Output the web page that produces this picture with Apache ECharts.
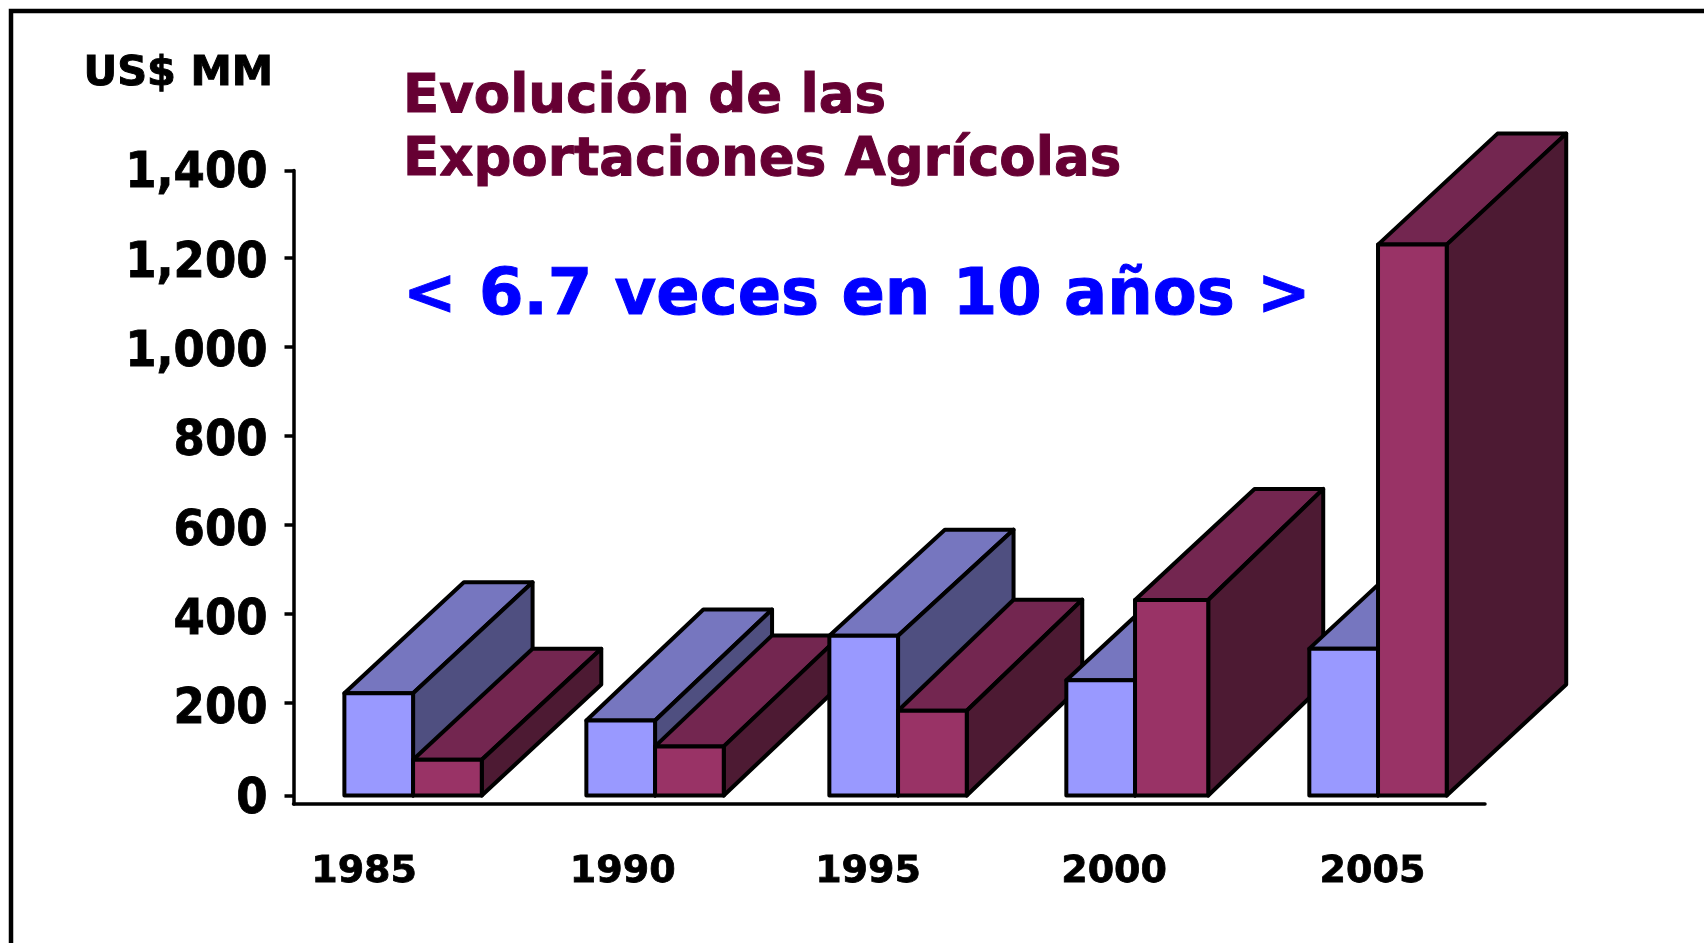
<!DOCTYPE html>
<html>
<head>
<meta charset="utf-8">
<title>Evolución de las Exportaciones Agrícolas</title>
<style>
  html, body { margin: 0; padding: 0; background: #fff; }
  #chart { width: 1704px; height: 943px; }
</style>
<script src="https://cdn.jsdelivr.net/npm/echarts@6/dist/echarts.min.js"></script>
</head>
<body>
<div id="chart"></div>
<script>
// data
const years = ['1985', '1990', '1995', '2000', '2005'];
const serieAzul = [229, 168, 358, 258, 329];
const serieRoja = [80, 110, 190, 438, 1234];
const yTicks = [0, 200, 400, 600, 800, 1000, 1200, 1400];
// the tick marks in the source sit a little off the labels
const yTickMarks = [0, 207, 407, 606, 806, 1005, 1205, 1400];

// layout only: the year labels and boxes are hand placed in the source, not on a regular step
const yearSlots = [-0.203, 0.869, 1.886, 2.906, 3.977];
const groupNudge = [0, 0.75, 2.5, -1.75, 0];
const redExtra = [0, 0, 0, 4.5, 0];
const depthNudgeX = [0, -2.5, -4, 0, 0];
const depthNudgeY = [0, 0, 5, 0, 0];

const barW = 68.7;
const depthX = 119.5;
const depthY = -111;

function box(x0, x1, xBack, dx, dy, yTop, yBase, front, top, side) {
  const stroke = { stroke: '#000', lineWidth: 4, lineJoin: 'round' };
  const poly = function (points, fill) {
    return { type: 'polygon', shape: { points: points }, style: Object.assign({ fill: fill }, stroke) };
  };
  return [
    poly([[x0, yTop], [x0 + dx, yTop + dy], [xBack + dx, yTop + dy], [x1, yTop]], top),
    poly([[x1, yTop], [xBack + dx, yTop + dy], [xBack + dx, yBase + dy], [x1, yBase]], side),
    poly([[x0, yTop], [x1, yTop], [x1, yBase], [x0, yBase]], front)
  ];
}

function renderBars(params, api) {
  const i = api.value(0);
  const c = api.coord([i, 0])[0] + groupNudge[i];
  const yBase = api.coord([i, 0])[1];
  const yAzul = api.coord([i, api.value(1)])[1];
  const yRoja = api.coord([i, api.value(2)])[1];
  const dx = depthX + depthNudgeX[i];
  return {
    type: 'group',
    children: box(c - barW, c, c, dx, depthY + depthNudgeY[i], yAzul, yBase, '#9999ff', '#7676bf', '#4f4f80')
      .concat(box(c, c + barW + redExtra[i], c + barW, dx, depthY, yRoja, yBase, '#993366', '#732650', '#4d1a33'))
  };
}

function textStyle(text, color, font) {
  return { text: text, fill: color, font: font, stroke: color, lineWidth: 1 };
}

const chart = echarts.init(document.getElementById('chart'), null, { renderer: 'canvas' });

chart.setOption({
  animation: false,
  backgroundColor: '#fff',
  grid: { left: 293.5, right: 219, top: 170.5, bottom: 139 },
  xAxis: {
    type: 'value',
    min: -0.4957,
    max: 4.4435,
    splitLine: { show: false },
    axisTick: { show: false },
    axisLine: { onZero: false, lineStyle: { color: '#000', width: 3.5 } },
    axisLabel: {
      customValues: yearSlots,
      margin: 49,
      color: '#000',
      fontFamily: 'DejaVu Sans',
      fontWeight: 'bold',
      fontSize: 38,
      textBorderColor: '#000',
      textBorderWidth: 0.8,
      formatter: function (value) { return years[yearSlots.indexOf(value)]; }
    }
  },
  yAxis: {
    type: 'value',
    min: -19,
    max: 1400,
    splitLine: { show: false },
    axisLine: { show: true, onZero: false, lineStyle: { color: '#000', width: 3.5 } },
    axisTick: { show: true, customValues: yTickMarks, length: 9, lineStyle: { color: '#000', width: 3.5 } },
    axisLabel: {
      customValues: yTicks,
      margin: 26,
      formatter: function (value) { return '{n|' + echarts.format.addCommas(value) + '}'; },
      rich: {
        n: {
          // top padding pushes the digits down onto the tick
          padding: [8, 0, 0, 0],
          color: '#000',
          fontFamily: 'DejaVu Sans Condensed',
          fontWeight: 'bold',
          fontSize: 50,
          textBorderColor: '#000',
          textBorderWidth: 0.8
        }
      }
    }
  },
  series: [{
    type: 'custom',
    clip: false,
    silent: true,
    renderItem: renderBars,
    encode: { x: 0, y: [1, 2] },
    data: years.map(function (y, i) { return [i, serieAzul[i], serieRoja[i]]; })
  }],
  graphic: [
    // frame runs off the right and bottom of the slide
    { type: 'polyline', silent: true, shape: { points: [[1704, 11], [11, 11], [11, 943]] },
      style: { stroke: '#000', lineWidth: 4.5, fill: null } },
    { type: 'text', left: 83, top: 53, style: textStyle('US$ MM', '#000', 'bold 41.5px "DejaVu Sans"') },
    { type: 'text', left: 402.5, top: 71, style: textStyle('Evolución de las', '#660033', 'bold 53px "DejaVu Sans"') },
    { type: 'text', left: 402.5, top: 134, style: textStyle('Exportaciones Agrícolas', '#660033', 'bold 53px "DejaVu Sans"') },
    { type: 'text', left: 402.5, top: 265, style: textStyle('< 6.7 veces en 10 años >', '#0000ff', 'bold 64px "DejaVu Sans"') }
  ]
});
</script>
</body>
</html>
